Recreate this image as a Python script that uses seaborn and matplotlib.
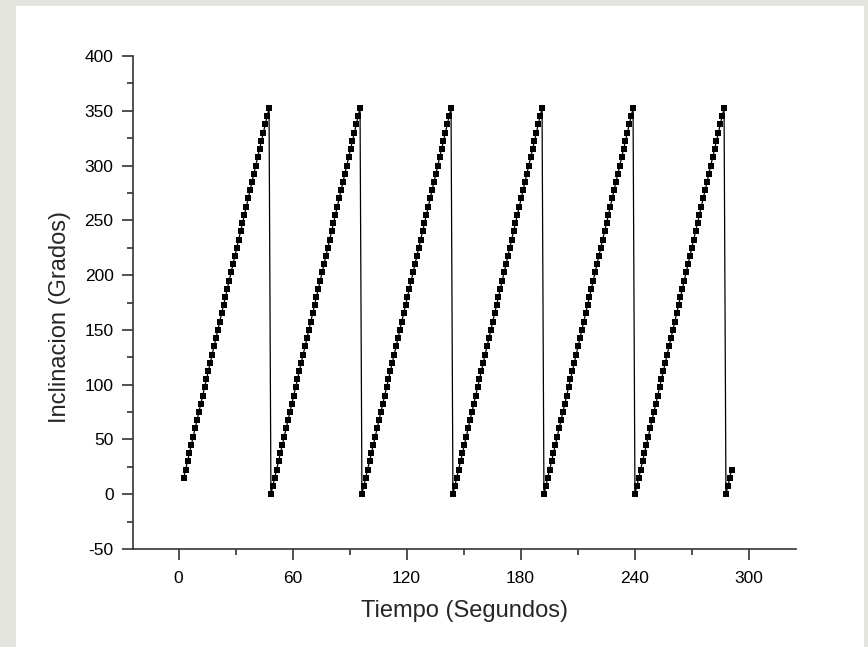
import numpy as np
import pandas as pd
import matplotlib
matplotlib.use("Agg")
from matplotlib import pyplot as plt
from matplotlib.patches import Rectangle
from matplotlib.ticker import MultipleLocator
import seaborn as sns

# one full turn of the sensor (degrees, one sample per step)
angulos_ciclo = [0, 7.5, 15, 22.5, 30, 37.5, 45, 52.5, 60, 67.5, 75, 82.5,
                 90, 97.5, 105, 112.5, 120, 127.5, 135, 142.5, 150, 157.5, 165, 172.5,
                 180, 187.5, 195, 202.5, 210, 217.5, 225, 232.5, 240, 247.5, 255, 262.5,
                 270, 277.5, 285, 292.5, 300, 307.5, 315, 322.5, 330, 337.5, 345, 352.5]

# pieces of the recording: first ramp starts at 15 deg, last one stops at 22.5 deg
tramos = [angulos_ciclo[2:], angulos_ciclo, angulos_ciclo, angulos_ciclo,
          angulos_ciclo, angulos_ciclo, angulos_ciclo[:4]]

primera_muestra = 2      # index of the first sample
inicio_reloj = 0.7       # s, time offset of sample 0
periodo_muestreo = 0.998 # s between samples

inclinacion = [a for tramo in tramos for a in tramo]
muestras = np.arange(primera_muestra, primera_muestra + len(inclinacion))
tiempo = inicio_reloj + periodo_muestreo * muestras

df = pd.DataFrame({"Tiempo": tiempo, "Inclinacion": inclinacion})

sns.set_style("ticks")
plt.rcParams['font.family'] = ['Liberation Sans', 'DejaVu Sans']
plt.rcParams['axes.unicode_minus'] = False

fig = plt.figure(figsize=(8.68, 6.47), dpi=100, facecolor='#e4e4df')
fondo = Rectangle((16 / 868, 0), 848 / 868, 641 / 647,
                  transform=fig.transFigure, facecolor='white',
                  edgecolor='none', zorder=-10)
fig.patches.append(fondo)
ax = fig.add_axes([133 / 868, 1 - 549 / 647, 663 / 868, 493 / 647])
ax.set_facecolor('white')
ax.set_zorder(1)

sns.lineplot(data=df, x="Tiempo", y="Inclinacion", ax=ax, color='black',
             linewidth=0.9, marker='s', markersize=3.8, markeredgewidth=0,
             markerfacecolor='black', sort=False, estimator=None)

ax.set_xlim(-24, 325)
ax.set_ylim(-50, 400)
ax.xaxis.set_major_locator(MultipleLocator(60))
ax.xaxis.set_minor_locator(MultipleLocator(30))
ax.yaxis.set_major_locator(MultipleLocator(50))
ax.yaxis.set_minor_locator(MultipleLocator(25))

sns.despine(ax=ax)
for s in ['left', 'bottom']:
    ax.spines[s].set_color('#333333')
    ax.spines[s].set_linewidth(1.2)
ax.tick_params(which='major', direction='out', length=8, width=1.2,
               color='#333333', labelsize=12.5, labelcolor='black', pad=6)
ax.tick_params(axis='x', which='major', pad=8)
ax.tick_params(which='minor', direction='out', length=4.5, width=1.2,
               color='#333333')

ax.set_xlabel('Tiempo (Segundos)', fontsize=17, labelpad=10)
ax.set_ylabel('Inclinacion (Grados)', fontsize=17, labelpad=10, y=0.47)

fig.savefig('out.png', dpi=100, facecolor=fig.get_facecolor())
